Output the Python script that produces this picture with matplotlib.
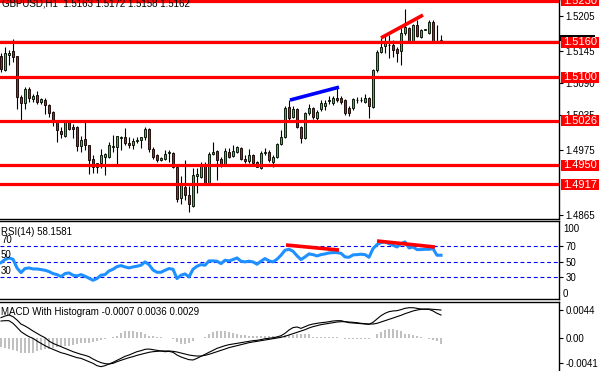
import numpy as np
import matplotlib.pyplot as plt
from matplotlib.patches import Rectangle
from matplotlib.transforms import blended_transform_factory

plt.rcParams['font.family'] = ['Liberation Sans', 'DejaVu Sans']

header = "GBPUSD,H1  1.5163 1.5172 1.5158 1.5162"

# GBPUSD H1 candles
opens = [1.5136, 1.5112, 1.5138, 1.5145, 1.5136, 1.5066, 1.5056, 1.5080, 1.5063, 1.5070,
         1.5058, 1.5061, 1.5053, 1.5041, 1.5025, 1.5008, 1.5000, 1.5024, 1.5015, 1.5015,
         1.4983, 1.4995, 1.4984, 1.4960, 1.4947, 1.4953, 1.4964, 1.4964, 1.4981, 1.4981,
         1.4996, 1.4998, 1.4988, 1.4984, 1.4991, 1.4993, 1.4998, 1.5012, 1.4977, 1.4967,
         1.4959, 1.4960, 1.4971, 1.4971, 1.4947, 1.4894, 1.4913, 1.4899, 1.4880, 1.4931,
         1.4930, 1.4952, 1.4918, 1.4969, 1.4974, 1.4960, 1.4950, 1.4972, 1.4966, 1.4972,
         1.4979, 1.4960, 1.4957, 1.4967, 1.4955, 1.4945, 1.4971, 1.4972, 1.4955, 1.4964,
         1.4986, 1.4998, 1.5049, 1.5032, 1.5046, 1.5015, 1.4996, 1.5039, 1.5047, 1.5030,
         1.5046, 1.5051, 1.5059, 1.5056, 1.5065, 1.5065, 1.5061, 1.5047, 1.5047, 1.5061,
         1.5061, 1.5058, 1.5065, 1.5049, 1.5112, 1.5143, 1.5153, 1.5155, 1.5155, 1.5148,
         1.5145, 1.5175, 1.5184, 1.5162, 1.5189, 1.5169, 1.5181, 1.5175, 1.5194, 1.5162, 1.5163]
highs = [1.5141, 1.5152, 1.5146, 1.5165, 1.5137, 1.5070, 1.5083, 1.5083, 1.5071, 1.5077,
         1.5065, 1.5065, 1.5054, 1.5042, 1.5026, 1.5015, 1.5025, 1.5025, 1.5020, 1.5016,
         1.5000, 1.5024, 1.4985, 1.4967, 1.4954, 1.4977, 1.4970, 1.4989, 1.5001, 1.5000,
         1.4999, 1.5013, 1.4998, 1.4996, 1.4998, 1.4998, 1.5015, 1.5013, 1.4981, 1.4969,
         1.4964, 1.4976, 1.4976, 1.4972, 1.4948, 1.4931, 1.4959, 1.4914, 1.4945, 1.4945,
         1.4955, 1.4955, 1.4972, 1.4989, 1.4975, 1.4964, 1.4979, 1.4979, 1.4984, 1.4983,
         1.4981, 1.4967, 1.4977, 1.4969, 1.4957, 1.4974, 1.4979, 1.4976, 1.4967, 1.4988,
         1.5010, 1.5051, 1.5061, 1.5051, 1.5047, 1.5017, 1.5041, 1.5054, 1.5049, 1.5044,
         1.5061, 1.5061, 1.5068, 1.5068, 1.5085, 1.5068, 1.5063, 1.5051, 1.5065, 1.5066,
         1.5066, 1.5071, 1.5066, 1.5114, 1.5146, 1.5167, 1.5172, 1.5172, 1.5163, 1.5152,
         1.5184, 1.5216, 1.5186, 1.5191, 1.5198, 1.5182, 1.5182, 1.5198, 1.5198, 1.5189, 1.5172]
lows = [1.5109, 1.5111, 1.5121, 1.5126, 1.5046, 1.5027, 1.5046, 1.5058, 1.5058, 1.5054,
        1.5054, 1.5037, 1.5032, 1.5017, 1.4989, 1.4996, 1.4998, 1.5010, 1.4996, 1.4974,
        1.4972, 1.4976, 1.4935, 1.4936, 1.4936, 1.4945, 1.4933, 1.4962, 1.4972, 1.4950,
        1.4976, 1.4984, 1.4979, 1.4977, 1.4988, 1.4979, 1.4993, 1.4972, 1.4960, 1.4955,
        1.4957, 1.4959, 1.4955, 1.4945, 1.4887, 1.4884, 1.4890, 1.4870, 1.4879, 1.4902,
        1.4928, 1.4916, 1.4916, 1.4967, 1.4925, 1.4947, 1.4948, 1.4962, 1.4964, 1.4971,
        1.4959, 1.4953, 1.4953, 1.4952, 1.4947, 1.4943, 1.4967, 1.4955, 1.4947, 1.4962,
        1.4984, 1.4996, 1.5027, 1.5030, 1.5013, 1.4988, 1.4995, 1.5036, 1.5029, 1.5025,
        1.5042, 1.5044, 1.5054, 1.5053, 1.5058, 1.5054, 1.5036, 1.5034, 1.5044, 1.5056,
        1.5058, 1.5056, 1.5030, 1.5047, 1.5109, 1.5141, 1.5141, 1.5133, 1.5134, 1.5126,
        1.5121, 1.5172, 1.5160, 1.5160, 1.5169, 1.5167, 1.5181, 1.5174, 1.5158, 1.5160, 1.5158]
closes = [1.5114, 1.5141, 1.5141, 1.5134, 1.5066, 1.5056, 1.5080, 1.5065, 1.5068, 1.5058,
          1.5063, 1.5053, 1.5039, 1.5027, 1.5010, 1.5003, 1.5024, 1.5012, 1.5012, 1.4983,
          1.4993, 1.4984, 1.4959, 1.4947, 1.4953, 1.4967, 1.4969, 1.4984, 1.4983, 1.5000,
          1.4998, 1.4988, 1.4984, 1.4991, 1.4993, 1.4998, 1.5012, 1.4977, 1.4964, 1.4959,
          1.4962, 1.4969, 1.4972, 1.4947, 1.4892, 1.4920, 1.4899, 1.4884, 1.4933, 1.4935,
          1.4952, 1.4918, 1.4969, 1.4972, 1.4959, 1.4950, 1.4974, 1.4964, 1.4974, 1.4981,
          1.4960, 1.4957, 1.4967, 1.4953, 1.4947, 1.4971, 1.4972, 1.4959, 1.4964, 1.4986,
          1.4998, 1.5047, 1.5030, 1.5046, 1.5015, 1.4996, 1.5039, 1.5047, 1.5032, 1.5041,
          1.5056, 1.5056, 1.5061, 1.5065, 1.5061, 1.5058, 1.5039, 1.5039, 1.5063, 1.5061,
          1.5061, 1.5065, 1.5051, 1.5112, 1.5143, 1.5152, 1.5158, 1.5155, 1.5146, 1.5141,
          1.5175, 1.5186, 1.5162, 1.5189, 1.5170, 1.5181, 1.5182, 1.5194, 1.5160, 1.5161, 1.5162]

rsi = [48.6, 52.5, 54.6, 52.9, 41.7, 35.7, 40.9, 41.7, 40.4, 40.4,
       39.6, 38.7, 37.0, 34.4, 33.1, 30.5, 34.4, 35.3, 32.3, 31.4,
       33.1, 31.0, 28.4, 25.8, 28.0, 32.3, 33.1, 37.8, 40.0, 43.4,
       44.7, 43.0, 41.7, 43.0, 43.9, 45.2, 49.5, 46.0, 39.1, 36.1,
       36.1, 38.7, 40.9, 40.0, 28.0, 32.3, 34.0, 30.1, 40.0, 43.9,
       46.0, 45.2, 50.8, 50.8, 50.4, 47.3, 51.6, 50.8, 52.5, 54.6,
       50.4, 49.5, 50.4, 49.5, 46.5, 50.4, 53.8, 50.8, 49.5, 52.9,
       58.1, 64.5, 65.8, 63.2, 57.4, 52.5, 55.9, 59.8, 58.9, 57.2,
       58.9, 59.8, 61.1, 61.5, 61.5, 60.6, 55.9, 55.5, 58.5, 58.9,
       59.4, 58.9, 55.5, 66.6, 71.8, 74.4, 75.3, 73.1, 71.0, 68.8,
       73.1, 75.3, 67.5, 68.8, 65.4, 65.4, 65.8, 65.8, 66.6, 58.1, 58.1]

# MACD values in units of 0.0001
macd_main = [26.2, 26.7, 26.7, 22.5, 16.1, 9.3, 5.0, 1.3, -1.3, -5.6,
             -9.3, -13.0, -16.1, -18.8, -21.4, -24.1, -25.7, -27.8, -29.9, -32.0,
             -33.1, -35.7, -38.4, -41.0, -44.7, -46.3, -44.7, -42.1, -39.4, -36.2,
             -33.1, -29.9, -27.8, -25.1, -22.5, -20.9, -18.8, -18.3, -19.3, -20.4,
             -21.4, -22.5, -22.0, -23.5, -27.8, -30.9, -33.1, -35.2, -35.7, -33.1,
             -29.9, -26.7, -23.5, -20.4, -17.2, -15.1, -13.0, -11.4, -10.3, -9.3,
             -8.2, -7.1, -6.1, -5.0, -4.5, -3.4, -1.9, -1.3, -0.3, 0.8,
             2.9, 6.6, 11.9, 15.7, 16.7, 14.5, 17.2, 19.8, 21.4, 22.5,
             23.5, 24.1, 25.1, 26.2, 26.7, 26.7, 25.1, 23.5, 23.0, 22.5,
             22.0, 21.4, 20.9, 24.1, 29.4, 34.6, 38.4, 41.0, 42.1, 42.6,
             44.2, 46.3, 47.3, 47.3, 46.3, 45.2, 44.7, 44.7, 42.1, 38.4, 35.7]
macd_signal = [31.5, 34.1, 35.7, 33.1, 27.8, 21.4, 18.3, 14.5, 10.3, 6.6,
               2.9, -0.3, -5.6, -9.3, -11.9, -14.5, -17.2, -19.8, -22.5, -24.6,
               -26.7, -28.3, -30.4, -34.1, -37.3, -39.9, -41.5, -42.1, -41.0, -38.4,
               -36.2, -34.1, -32.0, -30.4, -28.3, -26.7, -25.1, -23.5, -22.5, -22.0,
               -21.4, -21.4, -21.4, -22.0, -23.0, -24.6, -26.2, -27.8, -28.8, -29.4,
               -29.4, -28.3, -26.7, -24.6, -22.5, -20.4, -18.3, -16.1, -14.5, -13.0,
               -11.4, -9.8, -8.2, -7.1, -6.1, -5.0, -4.0, -2.9, -1.9, -0.8,
               0.3, 1.9, 4.0, 6.1, 8.2, 10.3, 12.4, 15.1, 17.2, 18.8,
               20.4, 21.4, 22.5, 23.5, 24.6, 25.1, 25.1, 24.6, 24.1, 23.5,
               22.5, 22.0, 21.4, 21.4, 22.5, 24.6, 26.7, 28.8, 30.9, 33.1,
               35.2, 37.8, 39.9, 42.1, 43.6, 44.7, 45.2, 45.2, 44.7, 44.2, 43.6]
macd_hist = [-15, -17, -18, -20, -22, -24, -25, -25, -24, -21,
             -20, -19, -18, -16, -15, -14, -13, -13, -12, -10,
             -9, -8, -8, -7, -6, -4, -2, -1, 0.5, 3,
             7, 10, 10, 10, 9, 8, 5, 3, 2, 1,
             0.5, 0, -0.5, -3, -7, -10, -10, -8, -5, -1,
             0, 1, 6, 9, 10, 10, 10, 9, 7, 5,
             4, 4, 3, 3, 2, 3, 3, 3, 2, 3,
             3, 4, 4, 4, 5, 6, 6, 5, 1, 0.5,
             0.5, 0.5, 0.5, 0.5, 0.5, 0, -3, -3, -3, -3,
             -3, -3, -2, 0, 6, 9, 12, 13, 13, 12,
             10, 6, 5, 4, 2, 1, -1, -2, -4, -6, -11]

levels = [1.5230, 1.5160, 1.5100, 1.5026, 1.4950, 1.4917]
price_ticks = [1.5205, 1.5145, 1.5090, 1.5035, 1.4975, 1.4865]
current_price = 1.5162

# hand drawn trend lines (bar index, value)
blue_trend = ([72.25, 84.5], [1.5061, 1.5083])
red_trend = ([95.0, 105.5], [1.5167, 1.5206])
rsi_trend1 = ([71.25, 84.5], [71.3, 64.8])
rsi_trend2 = ([94.0, 108.5], [76.5, 68.7])

W, H = 599, 371
fig = plt.figure(figsize=(W / 100, H / 100), dpi=100)
fig.patch.set_facecolor('white')


def rect(top, bottom):
    return [0, 1 - bottom / H, 559 / W, (bottom - top) / H]


ax1 = fig.add_axes(rect(0, 218.5))
ax2 = fig.add_axes(rect(221, 299))
ax3 = fig.add_axes(rect(302, 373))

x = np.arange(len(closes))
o = np.array(opens)
c = np.array(closes)
xlim = (-0.25, 139.5)

for ax in (ax1, ax2, ax3):
    ax.set_xlim(*xlim)
    ax.set_xticks([])
    ax.spines['left'].set_visible(False)
    for s in ('top', 'bottom', 'right'):
        ax.spines[s].set_linewidth(1.0)
    ax.yaxis.tick_right()
    ax.tick_params(axis='y', length=3, width=0.8, labelsize=7, pad=1.5)

# ---- price panel
ymax, ymin = 1.52317, 1.52317 - 218.5 * 0.0001706
ax1.set_ylim(ymin, ymax)
px = (ymax - ymin) / 218.5

ax1.vlines(x, lows, highs, color='black', lw=0.8, zorder=2)
body_lo = np.minimum(o, c)
body_h = np.maximum(np.abs(c - o), 0.00001)
cols = np.where(c >= o, '#00e600', '#ff0000')
ax1.bar(x, body_h, bottom=body_lo, width=0.72, color=cols,
        edgecolor='black', linewidth=0.6, zorder=3)

ax1.axhline(current_price, color='#808080', lw=1.0, zorder=4)
for lv in levels:
    ax1.axhline(lv, color='#ff0000', lw=2.3, zorder=5)
ax1.plot(*blue_trend, color='#0000ff', lw=2.6, zorder=6, solid_capstyle='butt')
ax1.plot(*red_trend, color='#ff0000', lw=2.6, zorder=6, solid_capstyle='butt')

ax1.set_yticks(price_ticks)
ax1.set_yticklabels([f'{t:.4f}' for t in price_ticks])

tr = blended_transform_factory(fig.transFigure, ax1.transData)
ax1.add_patch(Rectangle((560 / W, current_price + 0.2 * px), 35 / W, 6 * px,
                        transform=tr, facecolor='black', edgecolor='none',
                        clip_on=False, zorder=9))
for lv in levels:
    ax1.add_patch(Rectangle((561 / W, lv - 5.5 * px), 38 / W, 11 * px,
                            transform=tr, facecolor='#ff0000', edgecolor='none',
                            clip_on=False, zorder=10))
    ax1.text(563.5 / W, lv - 0.3 * px, f'{lv:.4f}', transform=tr, color='white',
             fontsize=8, va='center', ha='left', zorder=11, clip_on=False)

fig.text(2 / W, 1 - 6.5 / H, header, fontsize=7, va='baseline', ha='left')

# ---- RSI panel
ax2.set_ylim(1.6, 102.3)
for lv in (70, 50, 30):
    ax2.axhline(lv, color='#0000ff', lw=0.8, ls=(0, (3.5, 2.5)), zorder=1)
ax2.plot(x, rsi, color='#1e90ff', lw=2.2, zorder=3)
ax2.plot(*rsi_trend1, color='#ff0000', lw=2.6, zorder=4, solid_capstyle='butt')
ax2.plot(*rsi_trend2, color='#ff0000', lw=2.6, zorder=4, solid_capstyle='butt')
ax2.set_yticks([70, 50, 30])
ax2.set_yticklabels(['70', '50', '30'])
tr2 = blended_transform_factory(ax2.transAxes, ax2.transData)
ax2.text(1.0 + 4 / 559, 92, '100', transform=tr2, fontsize=7, va='center', clip_on=False)
ax2.text(1.0 + 4 / 559, 8, '0', transform=tr2, fontsize=7, va='center', clip_on=False)
for lv in (70, 50, 30):
    ax2.text(1 / 559, lv + 1.5, str(lv), transform=tr2, fontsize=7, va='bottom')
ax2.text(1 / 559, 0.86, 'RSI(14) 58.1581', transform=ax2.transAxes,
         fontsize=7, va='center')

# ---- MACD panel
m_main = np.array(macd_main) * 1e-4
m_sig = np.array(macd_signal) * 1e-4
m_hist = np.array(macd_hist) * 1e-4
ax3.set_ylim((337.5 - 373) / 6300, (337.5 - 302) / 6300)
ax3.bar(x, m_hist, width=0.55, color='#c0c0c0', zorder=1)
ax3.plot(x, m_main, color='black', lw=0.8, zorder=3)
ax3.plot(x, m_sig, color='black', lw=0.8, zorder=3)
ax3.set_yticks([0.0044, 0.0, -0.0041])
ax3.set_yticklabels(['0.0044', '0.00', '-0.0041'])
ax3.text(1 / 559, 1 - 10 / 71, 'MACD With Histogram -0.0007 0.0036 0.0029',
         transform=ax3.transAxes, fontsize=7, va='center')

fig.savefig('out.png', dpi=100, facecolor='white')
